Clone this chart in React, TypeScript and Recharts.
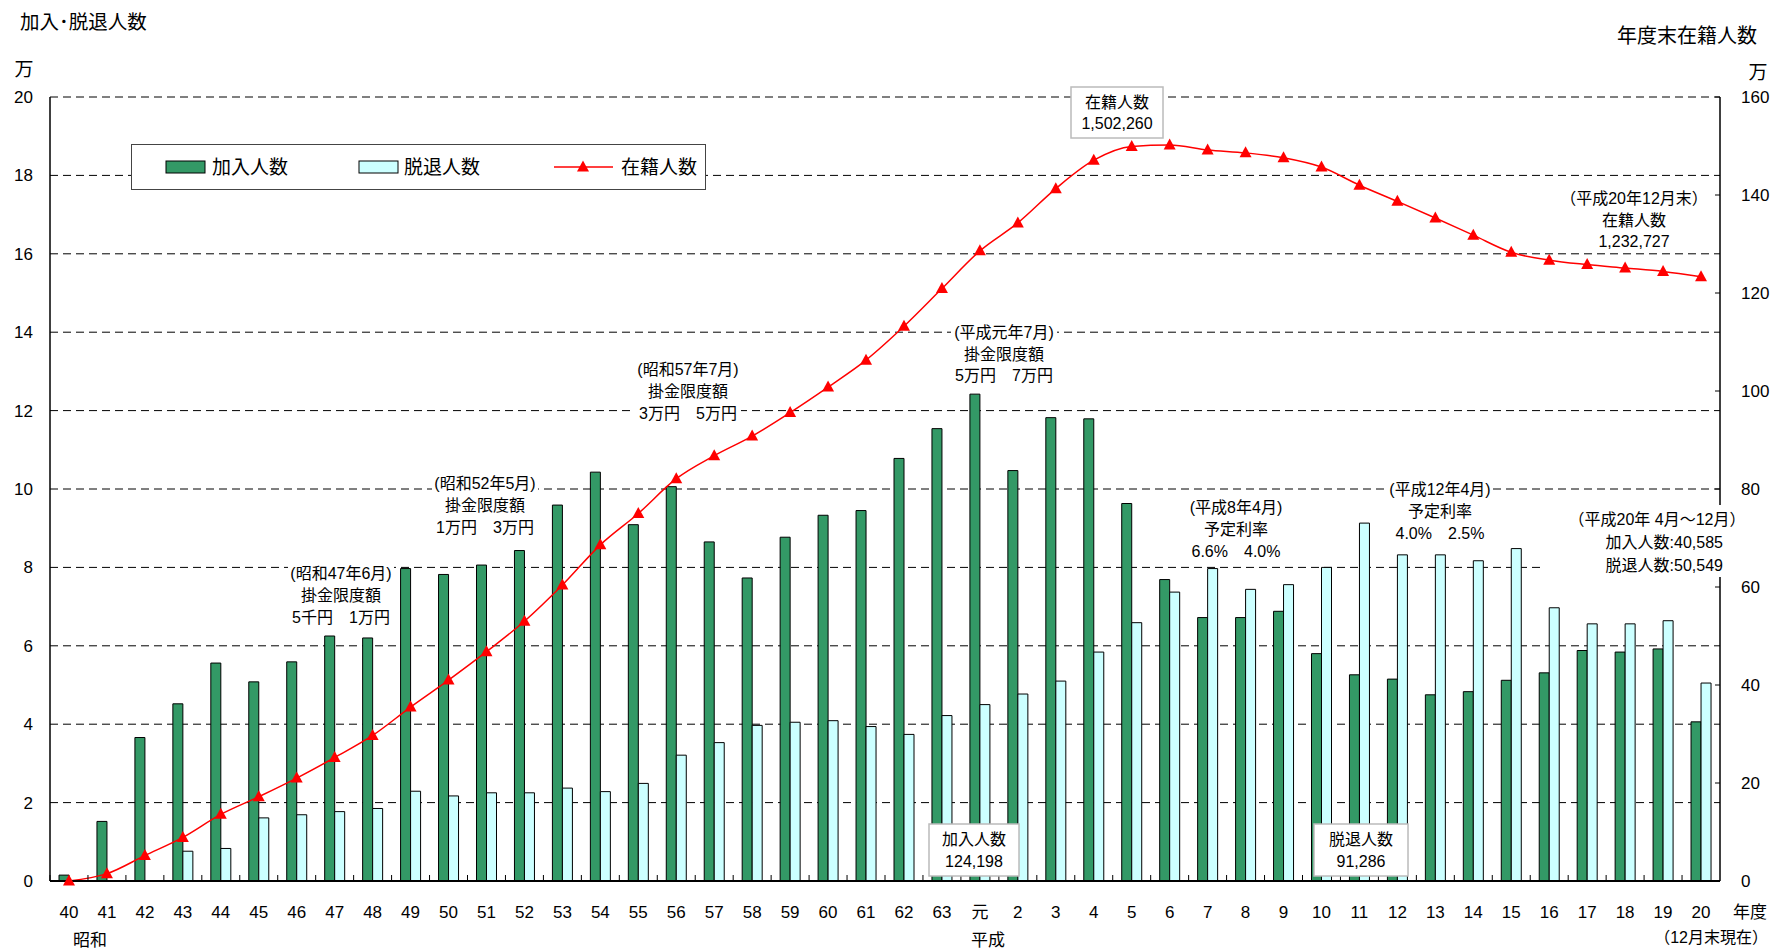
import React from 'react';
import { ComposedChart, Bar, Line, XAxis, YAxis, CartesianGrid, Legend } from 'recharts';

// ---------- data ----------
const categories = [
  '40', '41', '42', '43', '44', '45', '46', '47', '48', '49', '50', '51', '52', '53', '54', '55', '56', '57', '58', '59', '60', '61', '62', '63',
  '元', '2', '3', '4', '5', '6', '7', '8', '9', '10', '11', '12', '13', '14', '15', '16', '17', '18', '19', '20',
];
// 加入人数 (万人)
const joined = [
  0.15, 1.52, 3.66, 4.52, 5.56, 5.08, 5.59, 6.25, 6.2, 7.97, 7.82, 8.06, 8.43, 9.59, 10.43, 9.09, 10.06, 8.65, 7.73, 8.77, 9.33, 9.45, 10.78, 11.54,
  12.42, 10.47, 11.82, 11.79, 9.63, 7.69, 6.72, 6.72, 6.88, 5.8, 5.26, 5.15, 4.75, 4.83, 5.12, 5.31, 5.88, 5.84, 5.92, 4.06,
];
// 脱退人数 (万人)
const withdrawn = [
  null, null, null, 0.76, 0.83, 1.61, 1.69, 1.77, 1.85, 2.29, 2.17, 2.25, 2.25, 2.37, 2.28, 2.49, 3.21, 3.53, 3.97, 4.05, 4.09, 3.94, 3.74, 4.22,
  4.5, 4.77, 5.1, 5.84, 6.59, 7.37, 7.97, 7.44, 7.56, 8.0, 9.13, 8.32, 8.32, 8.17, 8.48, 6.97, 6.56, 6.56, 6.64, 5.05,
];
// 在籍人数 (万人)
const enrolled = [
  0, 1.5, 5.2, 8.9, 13.6, 17.2, 21.0, 25.2, 29.7, 35.5, 41.0, 46.8, 53.0, 60.4, 68.6, 75.0, 82.1, 86.8, 90.8, 95.6, 100.8, 106.3, 113.2, 120.9,
  128.6, 134.3, 141.3, 147.1, 149.9, 150.2, 149.2, 148.6, 147.6, 145.7, 142.0, 138.7, 135.3, 131.8, 128.3, 126.7, 125.8, 125.1, 124.4, 123.3,
];
const leftTicks = [0, 2, 4, 6, 8, 10, 12, 14, 16, 18, 20];
const rightTicks = [0, 20, 40, 60, 80, 100, 120, 140, 160];

const seriesNames = { joined: '加入人数', withdrawn: '脱退人数', enrolled: '在籍人数' };

const annotations = [
  { x: 341, ys: [573, 595, 617], w: 106, lines: ['(昭和47年6月)', '掛金限度額', '5千円　1万円'] },
  { x: 485, ys: [483, 505, 527], w: 106, lines: ['(昭和52年5月)', '掛金限度額', '1万円　3万円'] },
  { x: 688, ys: [369, 391, 413], w: 106, lines: ['(昭和57年7月)', '掛金限度額', '3万円　5万円'] },
  { x: 1004, ys: [332, 354, 375], w: 106, lines: ['(平成元年7月)', '掛金限度額', '5万円　7万円'] },
  { x: 1236, ys: [507, 529, 551], w: 96, lines: ['(平成8年4月)', '予定利率', '6.6%　4.0%'] },
  { x: 1440, ys: [489, 511, 533], w: 106, lines: ['(平成12年4月)', '予定利率', '4.0%　2.5%'] },
  { x: 1634, ys: [198, 220, 241], w: 150, lines: ['（平成20年12月末）', '在籍人数', '1,232,727'] },
];
const boxes = [
  { x: 1117, ys: [102, 123], w: 92, lines: ['在籍人数', '1,502,260'] },
  { x: 974, ys: [839, 861], w: 90, lines: ['加入人数', '124,198'] },
  { x: 1361, ys: [839, 861], w: 94, lines: ['脱退人数', '91,286'] },
];

const data = categories.map((c, i) => ({
  cat: c,
  joined: joined[i],
  withdrawn: withdrawn[i],
  enrolled: enrolled[i],
}));

// ---------- layout ----------
const W = 1776;
const H = 949;
const LEFT_W = 50;
const RIGHT_W = 56;
const X_H = 68;
const TOP = 97;
const PLOT_W = W - LEFT_W - RIGHT_W;
const HALF_BAND = PLOT_W / categories.length / 2;
const FONT = "'Liberation Sans', 'Noto Sans CJK JP', sans-serif";
const GREEN = '#339966';
const CYAN = '#CCFFFF';
const RED = '#FF0000';

const XTick = (props: any) => {
  const { x, y, payload } = props;
  const axisY = y - 8;
  return (
    <g>
      <line x1={x - HALF_BAND} x2={x - HALF_BAND} y1={axisY} y2={axisY - 6} stroke="#000" strokeWidth={1} />
      <text x={x} y={axisY + 37} textAnchor="middle" fontSize={17} fill="#000" fontFamily={FONT}>
        {payload.value}
      </text>
    </g>
  );
};

const RTick = (props: any) => {
  const { x, y, payload } = props;
  const axisX = x - 8;
  return (
    <g>
      <line x1={axisX - 5} x2={axisX} y1={y} y2={y} stroke="#000" strokeWidth={1} />
      <text x={axisX + 21} y={y + 6} textAnchor="start" fontSize={17} fill="#000" fontFamily={FONT}>
        {payload.value}
      </text>
    </g>
  );
};

const TriDot = (props: any) => {
  const { cx, cy, index } = props;
  if (cx == null || cy == null) return <g key={index} />;
  return <polygon key={index} points={`${cx},${cy - 6.5} ${cx - 6},${cy + 4.5} ${cx + 6},${cy + 4.5}`} fill={RED} />;
};

const LegendBox = () => (
  <div
    style={{
      width: 575,
      height: 46,
      border: '1px solid #444',
      boxSizing: 'border-box',
      background: '#fff',
      position: 'relative',
      fontFamily: FONT,
      fontSize: 19,
      color: '#000',
    }}
  >
    <svg width={575} height={46} style={{ position: 'absolute', left: 0, top: 0 }}>
      <rect x={34} y={16} width={39} height={12} fill={GREEN} stroke="#000" strokeWidth={1} />
      <text x={80} y={29} fontSize={19} fontFamily={FONT} fill="#000">{seriesNames.joined}</text>
      <rect x={227} y={16} width={39} height={12} fill={CYAN} stroke="#000" strokeWidth={1} />
      <text x={272} y={29} fontSize={19} fontFamily={FONT} fill="#000">{seriesNames.withdrawn}</text>
      <line x1={422} x2={481} y1={22} y2={22} stroke={RED} strokeWidth={1.5} />
      <polygon points={`451,15.5 445,26.5 457,26.5`} fill={RED} />
      <text x={489} y={29} fontSize={19} fontFamily={FONT} fill="#000">{seriesNames.enrolled}</text>
    </svg>
  </div>
);

const Overlay = () => (
  <svg width={W} height={H} style={{ position: 'absolute', left: 0, top: 0, pointerEvents: 'none' }} fontFamily={FONT}>
    <text x={20} y={29} fontSize={19.5} fill="#000">加入･脱退人数</text>
    <text x={24} y={76} fontSize={19} fill="#000" textAnchor="middle">万</text>
    <text x={1617} y={43} fontSize={20} fill="#000">年度末在籍人数</text>
    <text x={1758} y={79} fontSize={19} fill="#000" textAnchor="middle">万</text>
    <text x={90} y={946} fontSize={17} fill="#000" textAnchor="middle">昭和</text>
    <text x={988} y={946} fontSize={17} fill="#000" textAnchor="middle">平成</text>
    <text x={1750} y={918} fontSize={17} fill="#000" textAnchor="middle">年度</text>
    <text x={1768} y={943} fontSize={16} fill="#000" textAnchor="end">（12月末現在）</text>

    {annotations.map((a, i) => (
      <g key={'a' + i}>
        <rect x={a.x - a.w / 2} y={a.ys[0] - 11} width={a.w} height={a.ys[a.ys.length - 1] - a.ys[0] + 22} fill="#fff" />
        {a.lines.map((l, j) => (
          <text key={j} x={a.x} y={a.ys[j] + 6} fontSize={16} fill="#000" textAnchor="middle">{l}</text>
        ))}
      </g>
    ))}

    <rect x={1545} y={505} width={200} height={72} fill="#fff" />
    <text x={1657} y={525} fontSize={16} fill="#000" textAnchor="middle">（平成20年 4月～12月）</text>
    <text x={1723} y={548} fontSize={16} fill="#000" textAnchor="end">加入人数:40,585</text>
    <text x={1723} y={571} fontSize={16} fill="#000" textAnchor="end">脱退人数:50,549</text>

    {boxes.map((b, i) => (
      <g key={'b' + i}>
        <rect x={b.x - b.w / 2} y={b.ys[0] - 15} width={b.w} height={b.ys[1] - b.ys[0] + 30} fill="#fff" stroke="#bbb" strokeWidth={1.5} />
        {b.lines.map((l, j) => (
          <text key={j} x={b.x} y={b.ys[j] + 6} fontSize={16} fill="#000" textAnchor="middle">{l}</text>
        ))}
      </g>
    ))}
  </svg>
);

export default function App() {
  return (
    <div style={{ position: 'absolute', left: 0, top: 0, width: W, height: H, background: '#fff' }}>
      <ComposedChart
        width={W}
        height={H}
        data={data}
        margin={{ top: TOP, right: 0, bottom: 0, left: 0 }}
        barGap={0}
        style={{ fontFamily: FONT }}
      >
        <CartesianGrid yAxisId="left" vertical={false} stroke="#000" strokeDasharray="8 5" strokeWidth={1} />
        <XAxis
          dataKey="cat"
          height={X_H}
          interval={0}
          tickLine={false}
          tickSize={0}
          tickMargin={8}
          tick={<XTick />}
          axisLine={{ stroke: '#000', strokeWidth: 2 }}
        />
        <YAxis
          yAxisId="left"
          orientation="left"
          width={LEFT_W}
          domain={[0, 20]}
          ticks={leftTicks}
          interval={0}
          tickLine={false}
          tickSize={0}
          tickMargin={17}
          tick={{ fill: '#000', fontSize: 17, fontFamily: FONT }}
          axisLine={{ stroke: '#000', strokeWidth: 1.5 }}
        />
        <YAxis
          yAxisId="right"
          orientation="right"
          width={RIGHT_W}
          domain={[0, 160]}
          ticks={rightTicks}
          interval={0}
          tickLine={false}
          tickSize={0}
          tickMargin={8}
          tick={<RTick />}
          axisLine={{ stroke: '#000', strokeWidth: 1.5 }}
        />
        <Legend
          layout="horizontal"
          verticalAlign="middle"
          align="center"
          content={<LegendBox />}
          wrapperStyle={{ left: 131, top: 144, width: 575, height: 46 }}
        />
        <Bar yAxisId="left" dataKey="joined" name={seriesNames.joined} fill={GREEN} stroke="#000" strokeWidth={1} barSize={10} isAnimationActive={false} />
        <Bar yAxisId="left" dataKey="withdrawn" name={seriesNames.withdrawn} fill={CYAN} stroke="#000" strokeWidth={1} barSize={10} isAnimationActive={false} />
        <Line
          yAxisId="right"
          dataKey="enrolled"
          name={seriesNames.enrolled}
          type="monotone"
          stroke={RED}
          strokeWidth={1.5}
          dot={<TriDot />}
          activeDot={false}
          isAnimationActive={false}
        />
      </ComposedChart>
      <Overlay />
    </div>
  );
}
